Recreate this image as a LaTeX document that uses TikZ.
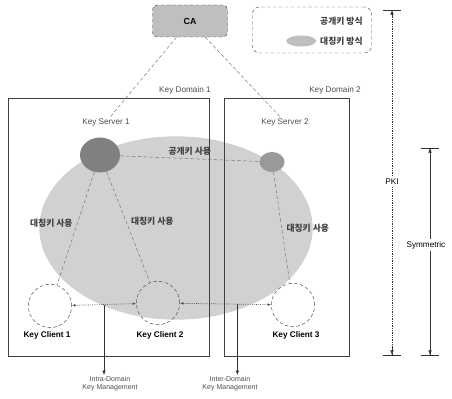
\documentclass[tikz,border=0pt]{standalone}
\usepackage{fontspec}
\setmainfont{Liberation Sans}
\newfontfamily\krfont{Noto Sans CJK KR}
\usetikzlibrary{arrows.meta, positioning, shapes.geometric}

\tikzset{
  lab/.style={font=\fontsize{7}{8}\selectfont, text=black!70, inner sep=1pt},
  krlab/.style={font=\krfont\bfseries\fontsize{7.5}{9}\selectfont, text=black!75, inner sep=1pt},
  clientlab/.style={font=\bfseries\fontsize{7}{8}\selectfont, inner sep=1pt},
  domainbox/.style={draw=black!75, line width=0.6pt, inner sep=0pt},
  client/.style={circle, draw=black!70, densely dashed, minimum size=1.3cm, inner sep=0pt},
  keylink/.style={draw=black!55, densely dashed, line width=0.4pt},
  peerlink/.style={draw=black!70, densely dotted, line width=0.6pt, {Latex[length=3pt]}-{Latex[length=3pt]}},
  rangebar/.style={draw=black!80, line width=0.5pt}
}

\begin{document}
\begin{tikzpicture}[x=0.03cm, y=-0.03cm]
\useasboundingbox (0,0) rectangle (452,399);

% symmetric key area
\node[ellipse, fill=black!18, minimum width=8.2cm, minimum height=5.5cm] (symarea) at (176,228) {};

% domains
\node[domainbox, minimum width=6.03cm, minimum height=7.74cm] (dom1) at (108.5,227) {};
\node[domainbox, minimum width=3.75cm, minimum height=7.74cm] (dom2) at (286.5,227) {};
\node[lab] (dom1lab) at (185,90) {Key Domain 1};
\node[lab] (dom2lab) at (335,90) {Key Domain 2};

% CA and legend
\node[draw=black!70, densely dashed, rounded corners=4pt, fill=black!25, minimum width=2.25cm, minimum height=0.96cm, font=\bfseries\fontsize{7.5}{9}\selectfont] (ca) at (190,21) {CA};
\node[draw=black!70, densely dashed, rounded corners=6pt, minimum width=3.57cm, minimum height=1.38cm] (legend) at (312,30) {};
\node[krlab, anchor=east] (leg1) at (364,21) {공개키 방식};
\node[krlab, anchor=east] (leg2) at (364,41) {대칭키 방식};
\node[ellipse, fill=black!25, minimum width=0.9cm, minimum height=0.3cm, left=2pt of leg2] (legblob) {};

% key servers
\node[ellipse, fill=black!50, minimum width=1.2cm, minimum height=1.05cm] (ks1) at (100,155) {};
\node[ellipse, fill=black!40, minimum width=0.75cm, minimum height=0.6cm] (ks2) at (272,162) {};
\node[lab] (ks1lab) at (106,122) {Key Server 1};
\node[lab] (ks2lab) at (285,122) {Key Server 2};

% key clients
\node[client] (kc1) at (50,306) {};
\node[client] (kc2) at (158,303) {};
\node[client] (kc3) at (293,305) {};
\node[clientlab] (kc1lab) at (47,335) {Key Client 1};
\node[clientlab] (kc2lab) at (160,335) {Key Client 2};
\node[clientlab] (kc3lab) at (296,335) {Key Client 3};

% public key links
\draw[keylink] (ca) -- (ks1lab);
\draw[keylink] (ca) -- (ks2lab);
\draw[keylink] (ks1) -- (ks2) node[krlab, midway, above=2pt] (pklab) {공개키 사용};

% symmetric key links
\draw[keylink] (ks1) -- (kc1) node[krlab, pos=0.45, left=3pt] (sk1lab) {대칭키 사용};
\draw[keylink] (ks1) -- (kc2) node[krlab, pos=0.45, right=3pt] (sk2lab) {대칭키 사용};
\draw[keylink] (ks2) -- (kc3) node[krlab, pos=0.5, right=3pt] (sk3lab) {대칭키 사용};

% client to client
\draw[peerlink] (kc1) -- (kc2) coordinate[midway] (intra);
\draw[peerlink] (kc2) -- (kc3) coordinate[pos=0.63] (inter);

% management arrows
\node[lab, align=center, font=\fontsize{6}{7}\selectfont] (intralab) at (110,384) {Intra-Domain\\Key Management};
\node[lab, align=center, font=\fontsize{6}{7}\selectfont] (interlab) at (230,384) {Inter-Domain\\Key Management};
\draw[black!80, line width=0.6pt, -{Latex[length=4pt]}] (intra) -- (intra |- intralab.north);
\draw[black!80, line width=0.6pt, -{Latex[length=4pt]}] (inter) -- (inter |- interlab.north);

% ranges
\coordinate (pkitop) at (392,10);
\coordinate (pkibot) at (392,355);
\coordinate (symtop) at (430,148);
\coordinate (symbot) at (430,355);
\draw[rangebar, densely dotted] (pkitop) -- (pkibot);
\draw[rangebar] (symtop) -- (symbot);
\foreach \p in {pkitop, pkibot, symtop, symbot}
  \draw[rangebar] ([xshift=-0.28cm]\p) -- ([xshift=0.28cm]\p);
\draw[black!80, -{Latex[length=4pt]}] ([yshift=-0.2cm]pkitop) -- (pkitop);
\draw[black!80, -{Latex[length=4pt]}] ([yshift=0.2cm]pkibot) -- (pkibot);
\draw[black!80, -{Latex[length=4pt]}] ([yshift=-0.2cm]symtop) -- (symtop);
\draw[black!80, -{Latex[length=4pt]}] ([yshift=0.2cm]symbot) -- (symbot);
\node[lab, fill=white, text=black, inner sep=2pt] (pkilab) at (392,182) {PKI};
\node[lab, fill=white, text=black, inner sep=2pt, anchor=west] (symlab) at (404,245) {Symmetric};
\end{tikzpicture}
\end{document}
